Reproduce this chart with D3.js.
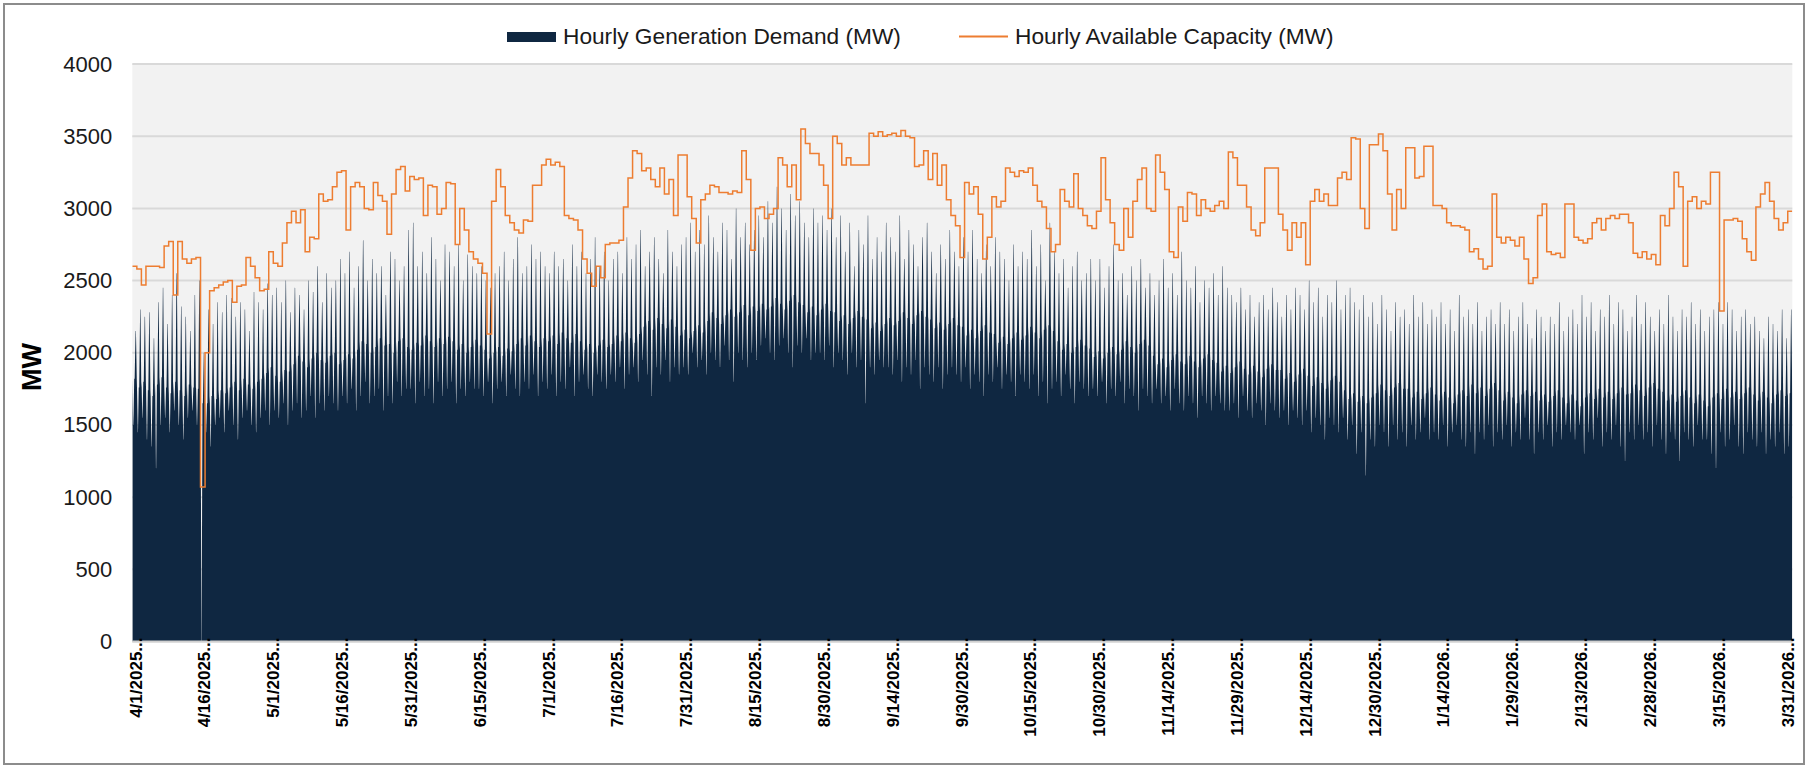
<!DOCTYPE html>
<html><head><meta charset="utf-8">
<script src="https://cdn.jsdelivr.net/npm/d3@7"></script>
<style>html,body{margin:0;padding:0;background:#fff}svg{display:block}text{font-family:"Liberation Sans",Arial,sans-serif}</style>
</head><body>
<svg id="c" width="1808" height="768"></svg>
<script>
// ---- data (one value per day starting 4/1/2025) ----
const xTickLabels = ["4/1/2025","4/16/2025","5/1/2025","5/16/2025","5/31/2025","6/15/2025","7/1/2025","7/16/2025","7/31/2025","8/15/2025","8/30/2025","9/14/2025","9/30/2025","10/15/2025","10/30/2025","11/14/2025","11/29/2025","12/14/2025","12/30/2025","1/14/2026","1/29/2026","2/13/2026","2/28/2026","3/15/2026","3/31/2026"];
const yTicks = [0,500,1000,1500,2000,2500,3000,3500,4000];

// daily peak of hourly generation demand (MW)
const demandPeak = [
2150,2300,2250,2280,2100,2350,2450,2200,2400,2550,2320,2250,2150,2400,2500,
2000,
2300,2200,2350,2280,2400,2380,2250,2350,2300,2150,2420,2350,2300,2480,2400,
2450,2350,2500,2280,2450,2400,2300,2500,2420,2600,2350,2550,2450,2500,2650,
2550,2700,2450,2600,2780,2500,2650,2550,2600,2400,2700,2650,2500,2600,2850,
2900,2600,2700,2550,2800,2650,2500,2750,2700,2600,2750,2500,2680,2600,2550,
2600,2500,2450,2550,2600,2700,2500,2650,2800,2550,2600,2750,2650,2700,2600,
2550,2700,2600,2650,2500,2750,2600,2700,2550,2650,2800,2600,2700,2500,2650,
2700,2550,2800,2650,2750,2850,2600,2700,2800,2650,2550,2850,2700,2600,2750,
2800,2900,2700,2850,2750,2950,2800,2700,2900,2850,2650,3000,2800,2900,2750,
2850,2950,2800,3050,2900,3150,3000,2850,3100,2950,3050,2900,2800,3000,2900,
2950,2850,3000,2800,2950,2700,2900,2600,2850,2750,2950,2650,2800,2700,2900,
2800,2700,2950,2650,2850,2750,2600,2800,2900,2700,2550,2750,2650,2850,2700,
2600,2800,2700,2850,2650,2550,2750,2600,2800,2700,2650,2500,2750,2600,2700,
2650,2850,2600,2750,2500,2900,2700,2550,2650,2450,2600,2700,2500,2550,2650,
2500,2650,2450,2600,2750,2500,2550,2400,2600,2500,2650,2450,2550,2400,2500,
2650,2450,2550,2400,2700,2500,2450,2600,2350,2500,2450,2550,2400,2600,2450,
2400,2350,2450,2300,2400,2250,2350,2400,2300,2450,2350,2250,2400,2300,2450,
2400,2300,2500,2350,2450,2250,2400,2350,2500,2300,2400,2450,2350,2300,2400,
2250,2350,2200,2400,2300,2150,2350,2250,2300,2200,2400,2250,2350,2200,2300,
2250,2350,2200,2300,2150,2400,2250,2300,2200,2350,2150,2250,2300,2200,2350,
2200,2300,2150,2250,2350,2200,2100,2300,2250,2150,2250,2200,2350,2150,2250,
2300,2200,2400,2250,2350,2150,2300,2250,2400,2200,2350,2300,2150,2250,2400,
2200,2350,2250,2150,2300,2200,2400,2250,2150,2300,2250,2350,2200,2300,2150,
2250,2300,2350,2200,2350,2300,2150,2250,2300,2200,2250,2150,2100,2250,2200,2150,2300,2100,2300];

// daily low of hourly generation demand (MW)
const demandLow = [
1500,1450,1550,1400,1350,1200,1500,1550,1450,1600,1500,1400,1550,1600,1500,
0,
1450,1350,1500,1550,1450,1600,1500,1400,1550,1600,1500,1450,1550,1600,1500,
1600,1550,1650,1500,1600,1650,1550,1600,1700,1550,1650,1600,1700,1650,1600,
1700,1650,1750,1600,1700,1800,1650,1700,1750,1600,1700,1650,1800,1700,1750,
1750,1650,1800,1700,1750,1650,1800,1700,1750,1800,1650,1750,1700,1800,1750,
1750,1700,1800,1650,1750,1800,1700,1850,1750,1700,1800,1750,1850,1700,1800,
1750,1850,1700,1800,1750,1900,1700,1800,1850,1750,1700,1850,1800,1750,1850,
1800,1900,1750,1850,1900,1800,1950,1850,1700,1900,1850,1950,1800,1900,1850,
1900,1850,2000,1900,1950,1850,2000,1950,1900,2050,1950,1800,2000,1950,1900,
2000,1950,2050,2100,2000,1950,2050,2100,2000,1900,2050,2000,2100,1950,2000,
2000,1950,2050,1900,2000,1950,1850,2000,1900,1950,1650,1900,1850,1950,1900,
1900,1850,1950,1800,1900,1850,1950,1750,1900,1850,1800,1900,1750,1850,1900,
1850,1800,1900,1750,1850,1800,1700,1850,1800,1900,1750,1850,1800,1700,1850,
1800,1750,1850,1700,1800,1650,1750,1800,1700,1850,1750,1650,1800,1750,1700,
1750,1700,1800,1650,1750,1700,1800,1650,1750,1700,1600,1750,1700,1650,1750,
1650,1700,1600,1750,1650,1600,1700,1650,1550,1700,1650,1600,1700,1650,1600,
1600,1650,1550,1700,1600,1550,1650,1600,1500,1650,1600,1550,1600,1500,1600,
1550,1500,1600,1450,1550,1500,1400,1550,1500,1450,1550,1400,1500,1300,1450,
1150,1400,1350,1500,1450,1350,1500,1400,1450,1350,1500,1400,1450,1550,1400,
1450,1400,1500,1350,1450,1500,1400,1350,1450,1300,1450,1400,1500,1350,1450,
1400,1500,1350,1450,1400,1550,1400,1300,1450,1400,1500,1350,1450,1400,1500,
1450,1400,1500,1300,1450,1400,1550,1350,1450,1400,1500,1350,1250,1450,1400,
1500,1400,1450,1350,1500,1400,1300,1450,1400,1250,1450,1400,1350,1500,1400,
1400,1300,1200,1450,1350,1400,1500,1350,1300,1450,1400,1350,1450,1300,1400,1350,1450,1300,1350];

// typical (solid) demand level of each day (MW)
const demandBase = [
1820,1760,1800,1740,1700,1780,1830, 1760,1720,1800,1740,1700,1780,1760,
1750,1650,1650,1700,1680,1740,1720, 1760,1800,1740,1820,1780,1750,1800,
1820,1860,1900,1840,1800,1880,1870, 1920,1980,1940,1900,1960,2000,1950,
1930,1980,2000,1920,1950,1990,1960, 2020,2080,2060,2000,2040,2100,2050,
2060,2000,2080,2100,2040,2020,2070, 2050,2120,2080,2040,2100,2060,2110,
2080,2020,2060,2000,2040,2090,2050, 2020,1960,2000,2040,1980,2030,2010,
2060,2100,2050,2120,2080,2040,2100, 2080,2120,2060,2140,2100,2070,2130,
2080,2020,2060,2000,2050,2090,2040, 2060,2120,2080,2140,2100,2070,2130,
2180,2220,2160,2240,2200,2170,2230, 2180,2120,2160,2100,2150,2190,2140,
2220,2280,2240,2200,2260,2300,2250, 2280,2330,2260,2320,2290,2340,2300,
2320,2380,2340,2300,2360,2400,2350, 2330,2280,2320,2260,2300,2340,2290,
2280,2220,2260,2200,2240,2290,2250, 2230,2170,2210,2150,2200,2240,2190,
2220,2280,2240,2200,2260,2290,2250, 2230,2170,2210,2160,2200,2240,2190,
2180,2120,2160,2100,2150,2190,2140, 2130,2070,2110,2060,2100,2140,2090,
2120,2180,2140,2100,2160,2190,2150, 2080,2020,2060,2000,2040,2090,2050,
2030,1970,2010,1960,2000,2040,1990, 2020,2080,2040,2000,2060,2090,2050,
1980,1920,1960,1900,1950,1990,1940, 1920,1980,1940,1900,1960,1990,1950,
1930,1870,1910,1860,1900,1940,1890, 1850,1910,1870,1830,1890,1920,1880,
1880,1820,1860,1800,1850,1890,1840, 1770,1830,1790,1750,1810,1840,1800,
1740,1680,1720,1660,1700,1650,1690, 1720,1780,1740,1700,1760,1790,1750,
1750,1690,1730,1680,1720,1760,1710, 1670,1730,1690,1650,1710,1740,1700,
1780,1720,1760,1700,1750,1790,1740, 1670,1730,1690,1650,1710,1740,1700,
1730,1670,1710,1660,1700,1740,1690, 1650,1710,1670,1630,1690,1720,1680,
1750,1690,1730,1680,1720,1760,1710, 1720,1780,1740,1700,1760,1790,1750,
1730,1670,1710,1660,1700,1740,1690, 1650,1710,1670,1630,1690,1720,1680,
1750,1690,1730,1680,1720,1760,1710, 1670,1730,1690,1650,1710,1740,1700,
1720];

// daily available capacity (MW)
const capacity = [
2600,2580,2470,2600,2600,2600,2590,2740,2770,2400,2770,2650,2620,2650,2660,
1070,
2000,2430,2450,2470,2490,2500,2350,2460,2470,2660,2600,2520,2430,2440,2700,
2620,2600,2760,2900,2980,2900,2990,2700,2800,2790,3100,3050,3060,3150,3250,
3260,2850,3150,3180,3150,3000,2990,3180,3090,3050,2820,3100,3270,3290,3120,
3220,3200,3210,2950,3160,3150,2960,3000,3180,3170,2750,3000,2850,2700,2650,
2620,2550,2130,3050,3270,3150,2950,2900,2850,2830,2920,2910,3160,3160,3300,
3340,3300,3320,3290,2950,2930,2920,2850,2650,2550,2460,2600,2520,2750,2760,
2760,2780,3010,3210,3400,3380,3260,3280,3200,3150,3280,3100,3200,2950,3370,
3370,3080,2930,2760,3060,3100,3160,3150,3110,3110,3100,3120,3110,3400,3200,
2710,3000,3010,2930,2960,3000,3350,3300,3150,3300,3060,3550,3450,3380,3380,
3300,3160,2930,3500,3450,3300,3350,3300,3300,3300,3300,3520,3500,3530,3500,
3510,3520,3500,3540,3500,3490,3290,3300,3400,3200,3380,3160,3300,3060,2950,
2880,2660,3180,3100,3150,2960,2650,2800,3080,3010,3050,3280,3250,3220,3260,
3250,3280,3160,3050,3010,2860,2700,2750,3130,3050,3010,3240,3000,2950,2880,
2860,2980,3350,3060,2900,2750,2710,3000,2800,3050,3200,3280,3000,2980,3370,
3250,3130,2700,2660,3010,2910,3110,3100,2950,3060,3000,2980,3020,3050,3000,
3390,3350,3160,3160,3010,2850,2810,2900,3280,3280,3280,2960,2850,2710,2900,
2800,2900,2610,3050,3130,3050,3100,3020,3020,3210,3250,3200,3490,3480,3000,
2860,3440,3440,3515,3400,3100,2850,3130,3000,3420,3420,3210,3220,3430,3430,
3020,3020,3000,2900,2880,2880,2870,2850,2700,2720,2650,2580,2600,3100,2800,
2760,2800,2780,2740,2800,2650,2480,2520,2950,3030,2700,2680,2690,2660,3030,
3030,2800,2780,2760,2790,2900,2930,2850,2930,2950,2930,2960,2960,2900,2690,
2660,2700,2650,2680,2610,2950,2880,3000,3250,3150,2600,3050,3080,3000,3050,
3030,3250,3250,2290,2920,2920,2930,2910,2790,2700,2640,3010,3100,3180,3050,2930,2850,2900,2980];

const seriesNames = ["Hourly Generation Demand (MW)","Hourly Available Capacity (MW)"];
const colors = {demand:"#0f2741", capacity:"#ed7d31"};

// ---- layout ----
const W = 1808, H = 768;
const plot = {left:132.3, right:1792.3, top:64, bottom:641.5};
const svg = d3.select("#c");

svg.append("rect").attr("x",4).attr("y",4).attr("width",W-8).attr("height",H-8)
  .attr("fill","#fff").attr("stroke","#8c8c8c").attr("stroke-width",2);

const nDays = demandPeak.length;
const x = d3.scaleLinear().domain([0, nDays]).range([plot.left, plot.right]);
const y = d3.scaleLinear().domain([0, 4000]).range([plot.bottom, plot.top]);
const xt = d3.scalePoint().domain(xTickLabels).range([140, 1792]);

svg.append("rect").attr("x",plot.left).attr("y",plot.top)
  .attr("width",plot.right-plot.left).attr("height",plot.bottom-plot.top).attr("fill","#f2f2f2");

// gridlines
svg.append("g").selectAll("line").data(yTicks).join("line")
  .attr("x1",plot.left).attr("x2",plot.right)
  .attr("y1",d=>y(d)).attr("y2",d=>y(d))
  .attr("stroke","#d9d9d9").attr("stroke-width",2);

// demand points: each day has a base level, a short low and a short peak
const pts = [];
for (let d = 0; d < nDays; d++) {
  const b = demandBase[d];
  pts.push([d+0.03, b],[d+0.2, demandLow[d]],[d+0.25, demandLow[d]],[d+0.42, b],
           [d+0.52, b],[d+0.72, demandPeak[d]],[d+0.8, demandPeak[d]],[d+0.98, b]);
}

svg.append("clipPath").attr("id","pc").append("rect")
  .attr("x",plot.left).attr("y",plot.top-2).attr("width",plot.right-plot.left).attr("height",plot.bottom-plot.top+2);

const area = d3.area().x(p=>x(p[0])).y0(y(0)).y1(p=>y(p[1])).curve(d3.curveLinear);
svg.append("path").datum(pts).attr("d",area).attr("fill",colors.demand).attr("clip-path","url(#pc)");

const capPts = capacity.map((v,i)=>[i,v]);
capPts.push([nDays, capacity[capacity.length-1]]);
const line = d3.line().x(p=>x(p[0])).y(p=>y(p[1])).curve(d3.curveStepAfter);
svg.append("path").datum(capPts).attr("d",line).attr("fill","none")
  .attr("stroke",colors.capacity).attr("stroke-width",1.5).attr("clip-path","url(#pc)");

// x axis line
svg.append("line").attr("x1",plot.left).attr("x2",plot.right)
  .attr("y1",plot.bottom).attr("y2",plot.bottom).attr("stroke","#d0d0d0").attr("stroke-width",2);

// y axis labels
const yAxis = d3.axisLeft(y).tickValues(yTicks).tickSize(0).tickPadding(20).tickFormat(d3.format("d"));
const gy = svg.append("g").attr("transform",`translate(${plot.left},0)`).call(yAxis);
gy.select(".domain").remove();
gy.selectAll("text").attr("font-size",22).attr("fill","#1a1a1a")
  .attr("font-family",'"Liberation Sans",Arial,sans-serif');

// x axis labels (rotated)
const xAxis = d3.axisBottom(xt).tickSize(0).tickFormat(d=>d+"...");
const gx = svg.append("g").attr("transform",`translate(0,${plot.bottom})`).call(xAxis);
gx.select(".domain").remove();
gx.selectAll("text")
  .attr("font-size",17).attr("font-weight","bold").attr("fill","#000")
  .attr("font-family",'"Liberation Sans",Arial,sans-serif')
  .attr("text-anchor","end").attr("transform","rotate(-90)")
  .attr("x",4).attr("y",0).attr("dy","0.06em");

// y title
svg.append("text").attr("transform","translate(41,367) rotate(-90)")
  .attr("text-anchor","middle").attr("font-size",27).attr("font-weight","bold")
  .attr("fill","#000").text("MW");

// legend
const lg = svg.append("g");
lg.append("rect").attr("x",507).attr("y",32).attr("width",49).attr("height",10).attr("fill",colors.demand);
lg.append("text").attr("x",563).attr("y",44).attr("font-size",22.7).attr("fill","#1a1a1a").text(seriesNames[0]);
lg.append("line").attr("x1",959).attr("x2",1008).attr("y1",36.5).attr("y2",36.5)
  .attr("stroke",colors.capacity).attr("stroke-width",2);
lg.append("text").attr("x",1015).attr("y",44).attr("font-size",22.7).attr("fill","#1a1a1a").text(seriesNames[1]);
</script>
</body></html>
